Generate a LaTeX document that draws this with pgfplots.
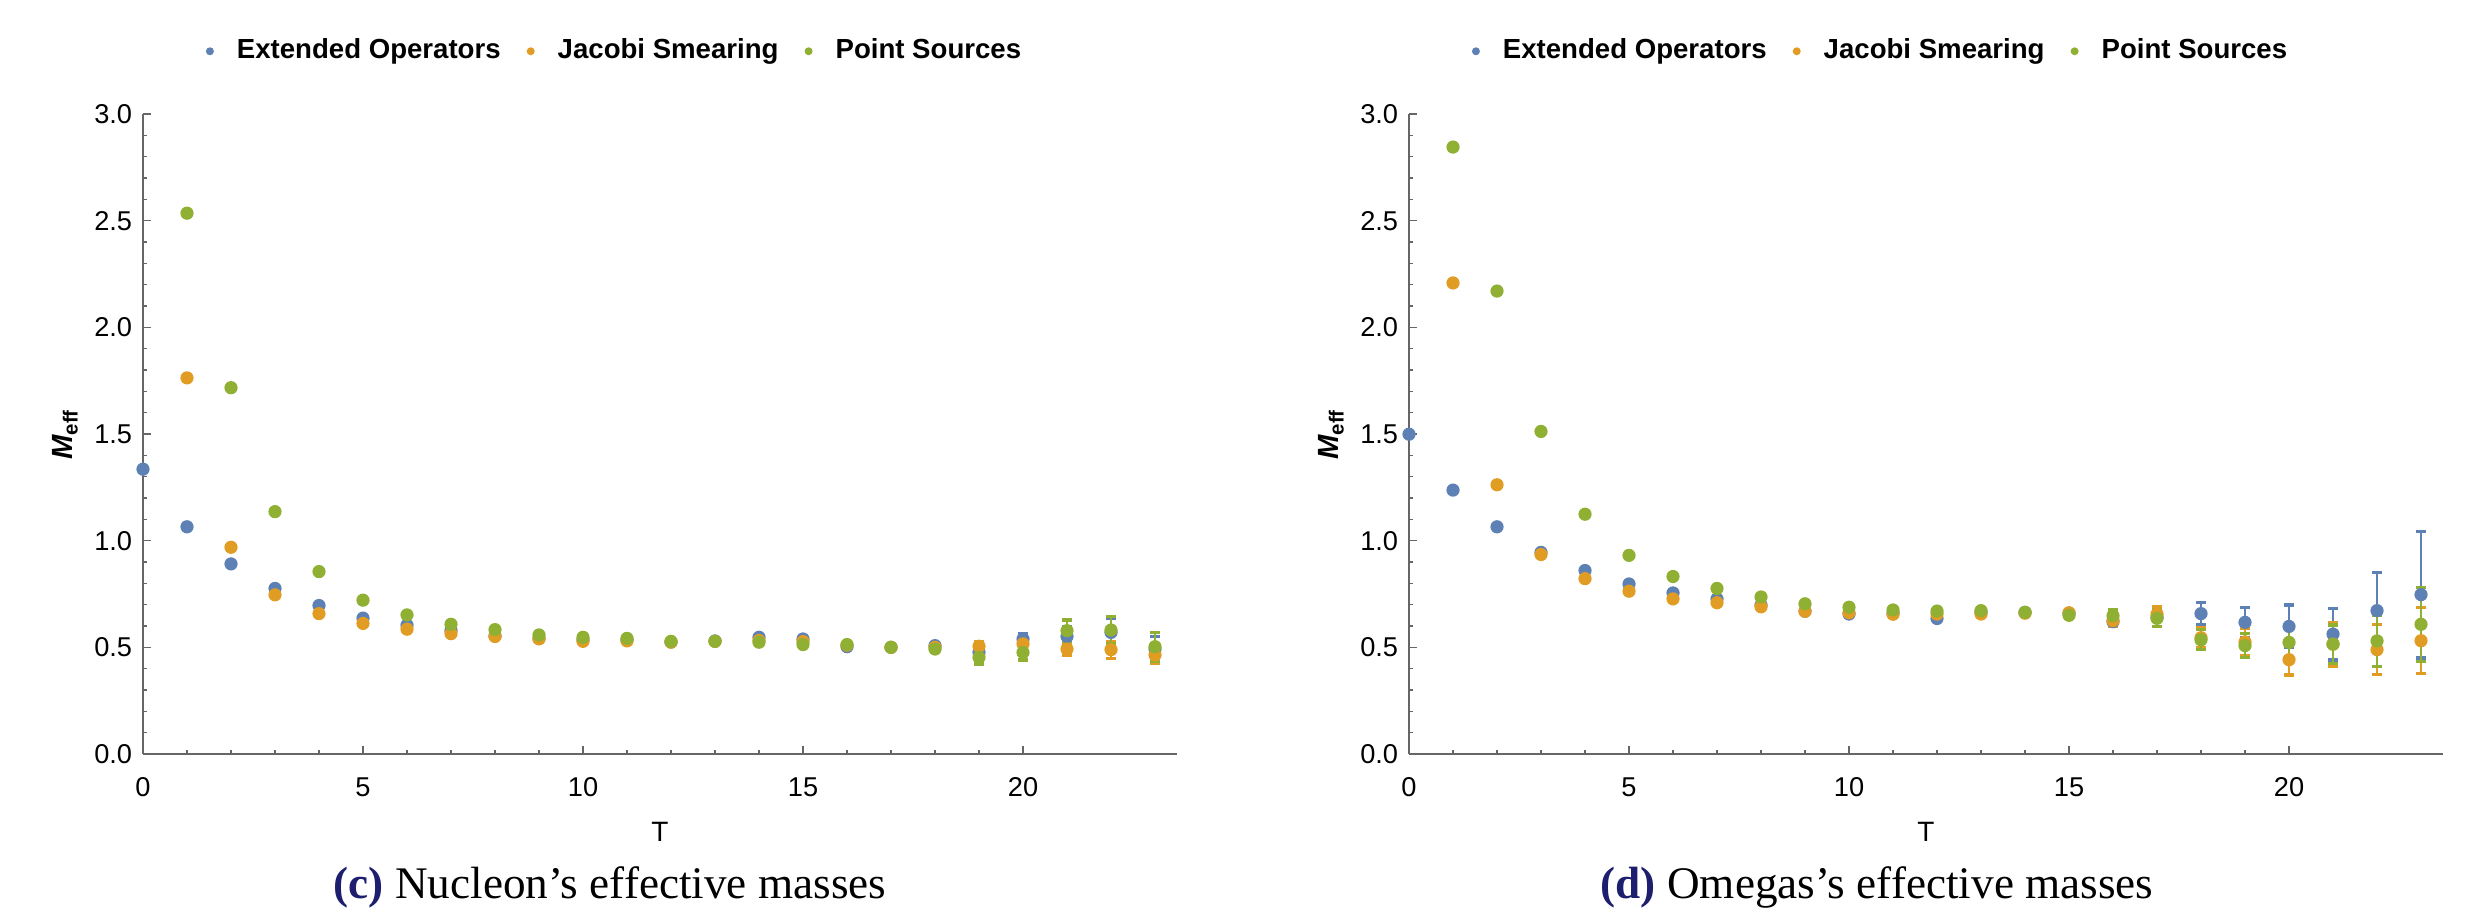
\documentclass[border=0pt]{standalone}
\usepackage{fontspec}
\setmainfont{Liberation Sans}
\newfontfamily\capfont{Liberation Serif}
\usepackage{pgfplots}
\usepackage{pgfplotstable}
\pgfplotsset{compat=1.18}
\definecolor{cB}{rgb}{0.368417,0.506779,0.709798}
\definecolor{cO}{rgb}{0.880722,0.611041,0.142051}
\definecolor{cG}{rgb}{0.560181,0.691569,0.194885}
\definecolor{capblue}{RGB}{30,30,110}

\pgfplotstableread{
T  b     be    o     oe    g     ge
0  1.335 0.005 nan   nan   nan   nan
1  1.065 0.005 1.763 0.005 2.535 0.005
2  0.891 0.005 0.969 0.005 1.717 0.005
3  0.776 0.005 0.746 0.005 1.136 0.005
4  0.696 0.005 0.658 0.005 0.855 0.005
5  0.637 0.005 0.612 0.005 0.721 0.005
6  0.604 0.005 0.585 0.005 0.652 0.005
7  0.579 0.005 0.564 0.005 0.608 0.005
8  0.553 0.005 0.551 0.005 0.583 0.005
9  0.541 0.005 0.540 0.005 0.558 0.005
10 0.535 0.005 0.528 0.005 0.547 0.005
11 0.535 0.005 0.530 0.005 0.542 0.005
12 0.525 0.005 0.524 0.005 0.528 0.005
13 0.530 0.005 0.528 0.005 0.528 0.005
14 0.547 0.005 0.532 0.005 0.524 0.005
15 0.539 0.006 0.527 0.006 0.513 0.006
16 0.503 0.008 0.510 0.008 0.513 0.008
17 0.500 0.008 0.500 0.008 0.500 0.008
18 0.508 0.012 0.500 0.012 0.492 0.012
19 0.476 0.025 0.505 0.020 0.453 0.031
20 0.539 0.025 0.516 0.020 0.476 0.035
21 0.551 0.045 0.492 0.030 0.578 0.050
22 0.570 0.065 0.489 0.040 0.581 0.065
23 0.492 0.060 0.464 0.040 0.503 0.068
}\nucleontab

\pgfplotstableread{
T  b     be    o     oe    g     ge
0  1.499 0.006 nan   nan   nan   nan
1  1.237 0.006 2.208 0.006 2.845 0.006
2  1.065 0.006 1.262 0.006 2.170 0.006
3  0.945 0.006 0.935 0.006 1.512 0.006
4  0.860 0.006 0.822 0.006 1.124 0.006
5  0.797 0.006 0.763 0.006 0.931 0.006
6  0.755 0.006 0.727 0.006 0.832 0.006
7  0.727 0.006 0.709 0.006 0.776 0.006
8  0.698 0.006 0.690 0.006 0.736 0.006
9  0.669 0.006 0.669 0.006 0.704 0.006
10 0.656 0.006 0.662 0.006 0.688 0.006
11 0.660 0.006 0.655 0.006 0.675 0.006
12 0.635 0.006 0.656 0.006 0.670 0.006
13 0.665 0.006 0.656 0.006 0.672 0.006
14 0.664 0.006 0.660 0.006 0.664 0.006
15 0.660 0.010 0.662 0.010 0.650 0.010
16 0.620 0.020 0.625 0.028 0.648 0.030
17 0.641 0.020 0.656 0.035 0.636 0.040
18 0.658 0.053 0.545 0.048 0.535 0.047
19 0.617 0.070 0.525 0.065 0.508 0.055
20 0.598 0.100 0.442 0.072 0.523 0.065
21 0.562 0.121 0.515 0.103 0.515 0.090
22 0.672 0.180 0.489 0.117 0.530 0.118
23 0.747 0.297 0.531 0.155 0.608 0.173
}\omegatab

\pgfplotsset{
  meff/.style={
    scale only axis, width=258.5pt, height=160pt,
    xmin=0, xmax=23.5, ymin=0, ymax=3,
    axis lines=left,
    axis line style={-, draw=black!60, line width=0.5pt},
    tick align=inside,
    major tick length=2pt, minor tick length=1.1pt,
    every tick/.style={draw=black!60, line width=0.4pt},
    xtick={0,5,10,15,20}, minor x tick num=4,
    ytick={0,0.5,1,1.5,2,2.5,3}, minor y tick num=4,
    /pgf/number format/assume math mode=true,
    tick label style={font=\fontsize{6.8}{8}\selectfont},
    yticklabel style={/pgf/number format/fixed, /pgf/number format/fixed zerofill, /pgf/number format/precision=1, xshift=0.8pt},
    xticklabel style={yshift=-2.4pt},
    xlabel={T},
    ylabel={{\bfseries\itshape M}\textsubscript{\bfseries eff}},
    xlabel style={at={([yshift=-19.5pt]axis description cs:0.5,0)}, anchor=center, font=\fontsize{7}{8}\selectfont},
    ylabel style={at={([xshift=-19.5pt]axis description cs:0,0.5)}, anchor=center, font=\fontsize{7.3}{8}\selectfont},
    legend columns=3,
    legend style={draw=none, fill=none, at={(0.457,1.098)}, anchor=center,
      font=\fontsize{6.9}{8}\selectfont\bfseries, inner sep=0pt,
      nodes={inner sep=1pt},
      /tikz/every odd column/.append style={column sep=4.75pt},
      /tikz/every even column/.append style={column sep=5.5pt}},
    legend image code/.code={\fill[#1,draw=none] (0pt,0pt) circle (1pt);},
  },
  ser/.style={only marks, color=#1, mark=*, mark size=1.45pt,
    mark options={draw=none, fill=#1},
    error bars/.cd, y dir=both, y explicit,
    error mark=-,
    error bar style={line width=0.6pt, color=#1},
    error mark options={rotate=90, line width=0.8pt, mark size=1.2pt, color=#1}},
}

\begin{document}
\begin{tikzpicture}
\path[use as bounding box] (0,0) rectangle (620.75pt,227.25pt);
\begin{axis}[meff, at={(35.75pt,38.75pt)}, anchor=south west]
\addplot[ser=cB] table[x=T, y=b, y error=be] {\nucleontab};
\addlegendentry{Extended Operators}
\addplot[ser=cO] table[x=T, y=o, y error=oe] {\nucleontab};
\addlegendentry{Jacobi Smearing}
\addplot[ser=cG] table[x=T, y=g, y error=ge] {\nucleontab};
\addlegendentry{Point Sources}
\end{axis}
\begin{axis}[meff, at={(352.25pt,38.75pt)}, anchor=south west]
\addplot[ser=cB] table[x=T, y=b, y error=be] {\omegatab};
\addlegendentry{Extended Operators}
\addplot[ser=cO] table[x=T, y=o, y error=oe] {\omegatab};
\addlegendentry{Jacobi Smearing}
\addplot[ser=cG] table[x=T, y=g, y error=ge] {\omegatab};
\addlegendentry{Point Sources}
\end{axis}
\node[anchor=base, inner sep=0pt, font=\capfont\fontsize{11.3}{13}\selectfont] at (152.5pt,2.7pt) {\textcolor{capblue}{\textbf{(c)}} Nucleon’s effective masses};
\node[anchor=base, inner sep=0pt, font=\capfont\fontsize{11.3}{13}\selectfont] at (469.25pt,2.7pt) {\textcolor{capblue}{\textbf{(d)}} Omegas’s effective masses};
\end{tikzpicture}
\end{document}
